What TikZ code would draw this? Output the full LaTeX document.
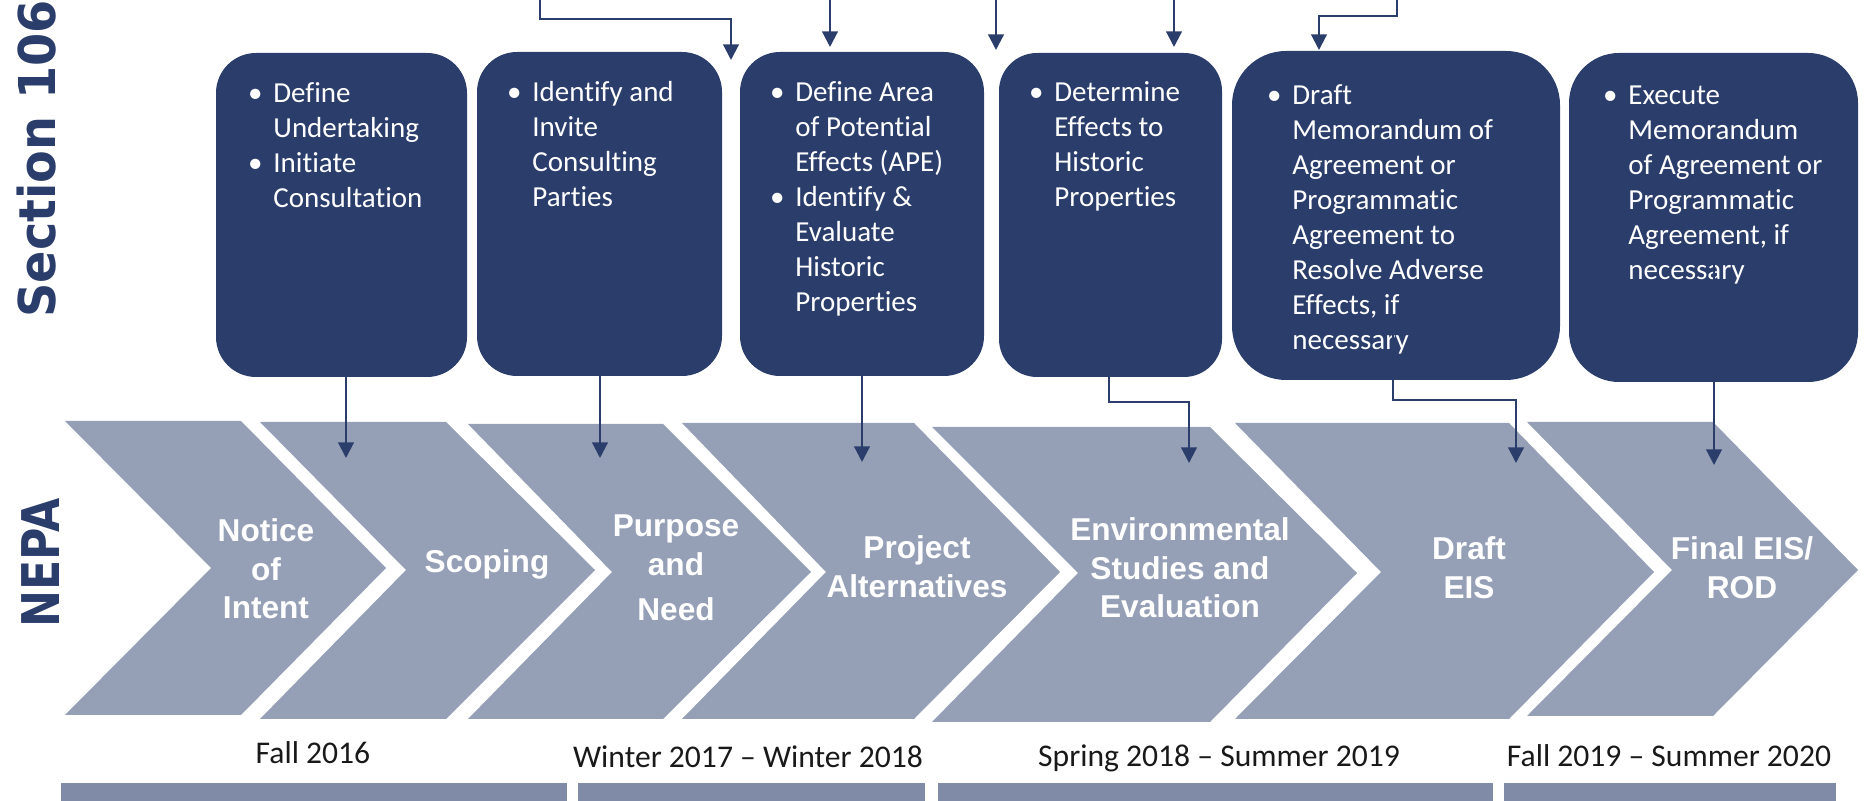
\documentclass[tikz,border=0pt]{standalone}
\usepackage{fontspec}
\setmainfont{Carlito}[Ligatures=NoCommon]
\newfontfamily\chevfont{Liberation Sans}
\newfontfamily\sidefont{DejaVu Sans}
\usetikzlibrary{arrows.meta}
\definecolor{navy}{RGB}{43,61,107}
\definecolor{chevc}{RGB}{149,160,182}
\definecolor{barc}{RGB}{127,139,167}
\definecolor{datec}{RGB}{25,25,25}
\newcommand{\bul}{\llap{\makebox[18pt]{\textbullet}}}
\newcommand{\mylines}[2][l]{\begin{tabular}[t]{@{}#1@{}}#2\end{tabular}}
\begin{document}
\begin{tikzpicture}[x=0.5pt,y=-0.5pt,
  sbox/.style={fill=navy,inner sep=0pt,rounded corners=#1},
  btext/.style={anchor=base west,inner sep=0pt,text=white,font=\fontsize{14.5}{17.5}\selectfont},
  ctext/.style={anchor=base,inner sep=0pt,text=white,font=\chevfont\bfseries\fontsize{15.8}{19.25}\selectfont},
  dtext/.style={anchor=base,inner sep=0pt,text=datec,font=\fontsize{15.8}{19}\selectfont},
  chev/.style={fill=chevc},
  barbox/.style={fill=barc},
  conn/.style={draw=navy,line width=1.1pt,-{Triangle[length=7.8pt,width=7.8pt]}},
  side/.style={text=navy,font=\sidefont\bfseries,rotate=90,inner sep=0pt}]
\useasboundingbox (0,0) rectangle (1864,801);

% ---------- Section 106 boxes
\node[sbox=20pt,minimum width=125.5pt,minimum height=162pt] (b1) at (341.5,215) {};
\node[sbox=20pt,minimum width=122.5pt,minimum height=162pt] (b2) at (599.5,214) {};
\node[sbox=20pt,minimum width=122pt,minimum height=162pt] (b3) at (862,214) {};
\node[sbox=19pt,minimum width=111.5pt,minimum height=162pt] (b4) at (1110.5,215) {};
\node[sbox=27pt,minimum width=164pt,minimum height=164.5pt] (b5) at (1396,215.5) {};
\node[sbox=25pt,minimum width=144.5pt,minimum height=164.5pt] (b6) at (1713.5,217.5) {};

\node[btext] (t1) at (273,103) {\mylines{\bul Define\\Undertaking\\\bul Initiate\\Consultation}};
\node[btext] (t2) at (532,102) {\mylines{\bul Identify and\\Invite\\Consulting\\Parties}};
\node[btext] (t3) at (795,102) {\mylines{\bul Define Area\\of Potential\\Effects (APE)\\\bul Identify \&\\Evaluate\\Historic\\Properties}};
\node[btext] (t4) at (1054,102) {\mylines{\bul Determine\\Effects to\\Historic\\Properties}};
\node[btext] (t5) at (1292,105) {\mylines{\bul Draft\\Memorandum of\\Agreement or\\Programmatic\\Agreement to\\Resolve Adverse\\Effects, if\\necessary}};
\node[btext] (t6) at (1628,105) {\mylines{\bul Execute\\Memorandum\\of Agreement or\\Programmatic\\Agreement, if\\necessary}};

% ---------- NEPA chevrons
\fill[chev] (65,421) -- (241,421) -- (386,568) -- (241,715) -- (65,715) -- (211,568) -- cycle;
\fill[chev] (260,422) -- (446,422) -- (595,570) -- (446,719) -- (260,719) -- (406,570) -- cycle;
\fill[chev] (468,424) -- (663,424) -- (811,572) -- (663,719) -- (468,719) -- (612,572) -- cycle;
\fill[chev] (682,423) -- (914,423) -- (1060,572) -- (914,719) -- (682,719) -- (826,572) -- cycle;
\fill[chev] (932,427) -- (1210,427) -- (1357,573) -- (1210,722) -- (932,722) -- (1078,573) -- cycle;
\fill[chev] (1235,423) -- (1509,423) -- (1654,572) -- (1509,719) -- (1235,719) -- (1381,572) -- cycle;
\fill[chev] (1527,422) -- (1713,422) -- (1858,570) -- (1713,716) -- (1527,716) -- (1672,570) -- cycle;

\node[ctext] (c1) at (266,542) {\mylines[c]{Notice\\of\\Intent}};
\node[ctext] (c2) at (487,573) {Scoping};
\node[ctext] (c3) at (676,537) {\mylines[c]{Purpose\\and\\[3.5pt]Need}};
\node[ctext] (c4) at (917,559) {\mylines[c]{Project\\Alternatives}};
\node[ctext] (c5) at (1180,541) {\mylines[c]{Environmental\\Studies and\\Evaluation}};
\node[ctext] (c6) at (1469,560) {\mylines[c]{Draft\\EIS}};
\node[ctext] (c7) at (1742,560) {\mylines[c]{Final EIS/\\ROD}};

% ---------- side labels
\node[side] (s106) at (37,159) {\fontsize{25.4}{30}\selectfont\scalebox{0.94}[1]{Section 106}};
\node[side] (nepa) at (41,563) {\fontsize{26}{30}\selectfont\scalebox{0.85}[1]{NEPA}};

% ---------- dates and bars
\node[dtext] (d1) at (313,763) {Fall 2016};
\node[dtext] (d2) at (748,768) {Winter 2017 – Winter 2018};
\node[dtext] (d3) at (1219,767) {Spring 2018 – Summer 2019};
\node[dtext] (d4) at (1669,767) {Fall 2019 – Summer 2020};
\fill[barbox] (61,783) rectangle (567,801);
\fill[barbox] (578,783) rectangle (925,801);
\fill[barbox] (938,783) rectangle (1493,801);
\fill[barbox] (1504,783) rectangle (1836,801);

% ---------- connectors from above
\coordinate (sA) at (540,0);  \coordinate (eA) at (731,60);
\coordinate (sB) at (830,0);  \coordinate (eB) at (830,47);
\coordinate (sC) at (996,0);  \coordinate (eC) at (996,50);
\coordinate (sD) at (1174,0); \coordinate (eD) at (1174,47);
\coordinate (sE) at (1397,0); \coordinate (eE) at (1319,50);
\draw[conn] (sA) -- ++(0,19) -| (eA);
\draw[conn] (sB) -- (eB);
\draw[conn] (sC) -- (eC);
\draw[conn] (sD) -- (eD);
\draw[conn] (sE) -- ++(0,16) -| (eE);

% ---------- connectors from boxes to chevrons
\coordinate (sF) at (346,293);  \coordinate (eF) at (346,458);
\coordinate (sG) at (600,376);  \coordinate (eG) at (600,458);
\coordinate (sH) at (862,376);  \coordinate (eH) at (862,462);
\coordinate (sI) at (1109,250); \coordinate (eI) at (1189,463);
\coordinate (sJ) at (1393,315); \coordinate (eJ) at (1516,463);
\coordinate (sK) at (1714,250); \coordinate (eK) at (1714,465);
\draw[conn] (sF) -- (eF);
\draw[conn] (sG) -- (eG);
\draw[conn] (sH) -- (eH);
\draw[conn] (sI) -- ++(0,152) -| (eI);
\draw[conn] (sJ) -- ++(0,85) -| (eJ);
\draw[conn] (sK) -- (eK);
\end{tikzpicture}
\end{document}
